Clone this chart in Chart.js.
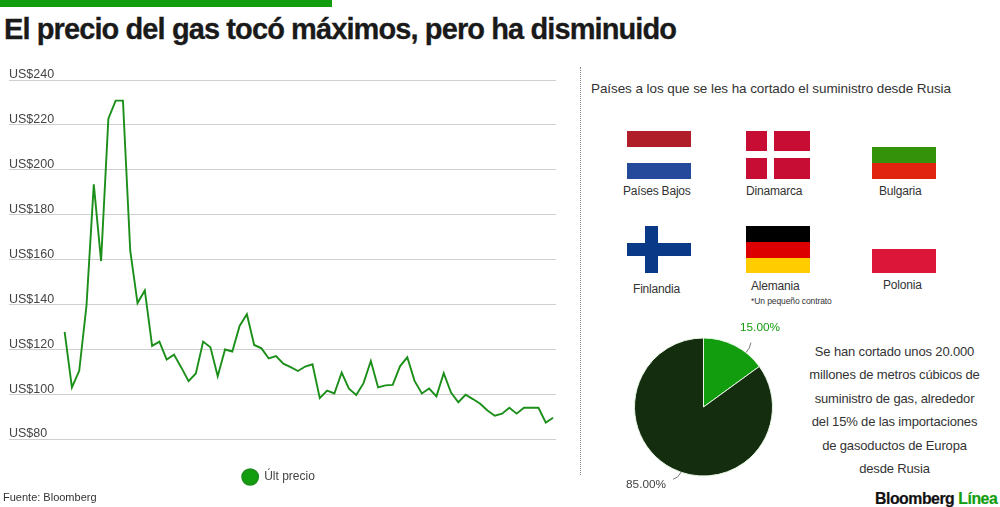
<!DOCTYPE html>
<html lang="es">
<head>
<meta charset="utf-8">
<title>El precio del gas</title>
<script src="https://cdn.jsdelivr.net/npm/chart.js@4"></script>
<style>
  html, body { margin: 0; padding: 0; background: #fff; }
  #page { position: relative; width: 1000px; height: 507px; overflow: hidden; font-family: "Liberation Sans", sans-serif; color: #333; }
  #page div { position: absolute; }
  .txt { white-space: nowrap; font-size: 12px; letter-spacing: -0.2px; line-height: 14px; }
  #topbar { left: 0; top: 0; width: 332px; height: 7px; background: #129d0e; }
  #title { left: 4px; top: 12px; font-size: 29px; line-height: 34px; font-weight: bold; color: #1a1a1a; letter-spacing: -0.9px; white-space: nowrap; -webkit-text-stroke: 0.3px #1a1a1a; }
  #divider { left: 580px; top: 67px; height: 408px; border-left: 1.5px dotted #888; }
  #body { left: 794px; top: 340px; width: 201px; text-align: center; font-size: 13px; line-height: 23.4px; letter-spacing: -0.155px; }
  #brand { left: 875px; top: 490px; font-size: 15.8px; line-height: 18px; font-weight: bold; color: #111; letter-spacing: -0.45px; white-space: nowrap; -webkit-text-stroke: 0.2px; }
  #brand span { color: #129d0e; }
  #lineCanvasBox { left: 0; top: 60px; width: 566px; height: 433px; }
  #pieCanvasBox { left: 613px; top: 317px; width: 181px; height: 180px; }
</style>
</head>
<body>
<div id="page">
  <div id="topbar"></div>
  <div id="title">El precio del gas tocó máximos, pero ha disminuido</div>

  <div id="lineCanvasBox"><canvas id="priceChart"></canvas></div>
  <div id="divider"></div>

  <div class="txt" style="left:591px;top:82px;font-size:13.5px;letter-spacing:-0.08px;">Países a los que se les ha cortado el suministro desde Rusia</div>

  <!-- Paises Bajos -->
  <div style="left:627px;top:131px;width:64px;height:16px;background:#b01e2a"></div>
  <div style="left:627px;top:163px;width:64px;height:16px;background:#264a9b"></div>
  <div class="txt" style="left:623px;top:184px;">Países Bajos</div>
  <!-- Dinamarca -->
  <div style="left:746px;top:131px;width:64px;height:48px;background:#c70d33"></div>
  <div style="left:767px;top:131px;width:7px;height:48px;background:#fff"></div>
  <div style="left:746px;top:151px;width:64px;height:7px;background:#fff"></div>
  <div class="txt" style="left:746px;top:184px;">Dinamarca</div>
  <!-- Bulgaria -->
  <div style="left:872px;top:147px;width:64px;height:16px;background:#33920a"></div>
  <div style="left:872px;top:163px;width:64px;height:16px;background:#e0240f"></div>
  <div class="txt" style="left:879px;top:184px;">Bulgaria</div>
  <!-- Finlandia -->
  <div style="left:627px;top:243px;width:64px;height:13px;background:#0a3a87"></div>
  <div style="left:645px;top:226px;width:13px;height:47px;background:#0a3a87"></div>
  <div class="txt" style="left:633px;top:282px;">Finlandia</div>
  <!-- Alemania -->
  <div style="left:746px;top:226px;width:64px;height:16px;background:#000"></div>
  <div style="left:746px;top:242px;width:64px;height:16px;background:#dc0000"></div>
  <div style="left:746px;top:258px;width:64px;height:15px;background:#ffcc00"></div>
  <div class="txt" style="left:751px;top:279px;">Alemania</div>
  <div class="txt" style="left:751px;top:295px;font-size:8.5px;letter-spacing:-0.1px;line-height:12px;">*Un pequeño contrato</div>
  <!-- Polonia -->
  <div style="left:872px;top:249px;width:64px;height:24px;background:#dc1639"></div>
  <div class="txt" style="left:883px;top:278px;">Polonia</div>

  <div id="pieCanvasBox"><canvas id="shareChart"></canvas></div>
  <div id="body">Se han cortado unos 20.000<br>millones de metros cúbicos de<br>suministro de gas, alrededor<br>del 15% de las importaciones<br>de gasoductos de Europa<br>desde Rusia</div>

  <div class="txt" style="left:3px;top:490px;font-size:11px;letter-spacing:0;">Fuente: Bloomberg</div>
  <div id="brand">Bloomberg <span>Línea</span></div>
</div>

<script>
"use strict";

// Values
const priceValues = [
    127.7, 103, 110.4, 139.5, 193.5, 159.3, 222.8, 230.8, 230.8, 163.9,
    140.6, 146.2, 121.5, 123.4, 115.4, 117.6, 111.9, 105.8, 109.2, 123.4,
    120.9, 108, 119.9, 119, 130.4, 135.6, 121.9, 120.4, 115.9, 117,
    113.6, 112, 110.3, 112.3, 113.3, 98.2, 101.6, 100.3, 109.6, 102.4,
    99.6, 104.9, 114.8, 103, 103.9, 104.1, 112.4, 116.4, 105.9, 100.3,
    102.5, 99, 109.3, 100.7, 96.4, 99.7, 97.8, 95.7, 92.7, 90.4,
    91.3, 93.9, 91.3, 93.9, 93.9, 93.9, 87.3, 89.5
];
const yTicks = [80, 100, 120, 140, 160, 180, 200, 220, 240];
const yTickLabels = ['US$80', 'US$100', 'US$120', 'US$140', 'US$160', 'US$180', 'US$200', 'US$220', 'US$240'];
const seriesName = 'Últ precio';

const shareLabels = ['15.00%', '85.00%'];
const shareValues = [15, 85];
const shareColors = ['#129d0e', '#132d0e'];

// Nudges the legend a little left of the plot centre, as in the original
var legendShiftPlugin = {
    id: 'legendShift',
    afterLayout: function (chart) {
        chart.legend.right -= 8;
    }
};

// Line chart: y labels sit on top of the grid lines, x axis is hidden
new Chart(document.getElementById('priceChart'), {
    type: 'line',
    data: {
        datasets: [{
            label: seriesName,
            data: priceValues.map(function (v, i) { return { x: i, y: v }; }),
            borderColor: '#1b8f19',
            backgroundColor: '#129d0e',
            borderWidth: 1.9,
            pointRadius: 0,
            tension: 0
        }]
    },
    options: {
        responsive: true,
        maintainAspectRatio: false,
        animation: false,
        layout: { padding: { left: 9, right: 10, top: 20, bottom: 0 } },
        scales: {
            x: {
                type: 'linear',
                min: -7.63, // leaves the empty stretch left of the first point
                max: 67.4,
                display: false
            },
            y: {
                min: 80,
                max: 240,
                afterBuildTicks: function (axis) {
                    axis.ticks = yTicks.map(function (v) { return { value: v }; });
                },
                border: { display: false },
                grid: { color: '#cfcfcf', lineWidth: 1, drawTicks: false },
                ticks: {
                    mirror: true,
                    padding: 0,
                    labelOffset: -5,
                    color: '#444',
                    font: { family: 'Liberation Sans', size: 12.5 },
                    callback: function (value, index) { return yTickLabels[index]; }
                }
            }
        },
        plugins: {
            tooltip: { enabled: false },
            legend: {
                position: 'bottom',
                labels: {
                    usePointStyle: true,
                    pointStyle: 'circle',
                    boxHeight: 11,
                    pointStyleWidth: 16,
                    padding: 32, // keeps the plot bottom well above the legend
                    color: '#444',
                    font: { family: 'Liberation Sans', size: 12 }
                }
            }
        }
    },
    plugins: [legendShiftPlugin]
});

// Draws the percent labels and short leader lines round the pie
var pieLabelsPlugin = {
    id: 'pieLabels',
    afterDraw: function (chart) {
        var ctx = chart.ctx;
        var arcs = chart.getDatasetMeta(0).data;
        var leaders = [
            { angle: 38, bendX: 4, bendY: -4, endX: 5, endY: -10, textX: -6, textY: -25, color: '#129d0e' },
            { angle: 199, bendX: -3, bendY: 6, endX: -8, endY: 7, textX: -55, textY: 13, color: '#444' }
        ];
        ctx.save();
        ctx.font = '11.8px "Liberation Sans"';
        ctx.textBaseline = 'middle';
        arcs.forEach(function (arc, i) {
            var l = leaders[i];
            var rad = l.angle * Math.PI / 180;
            var sx = arc.x + arc.outerRadius * Math.sin(rad);
            var sy = arc.y - arc.outerRadius * Math.cos(rad);
            ctx.strokeStyle = '#777';
            ctx.lineWidth = 1;
            ctx.beginPath();
            ctx.moveTo(sx, sy);
            ctx.quadraticCurveTo(sx + l.bendX, sy + l.bendY, sx + l.endX, sy + l.endY);
            ctx.stroke();
            ctx.fillStyle = l.color;
            ctx.fillText(shareLabels[i], sx + l.textX, sy + l.textY);
        });
        ctx.restore();
    }
};

new Chart(document.getElementById('shareChart'), {
    type: 'pie',
    data: {
        labels: shareLabels,
        datasets: [{
            data: shareValues,
            backgroundColor: shareColors,
            borderColor: '#e8f5e4',
            borderWidth: 1,
            radius: 69
        }]
    },
    options: {
        responsive: true,
        maintainAspectRatio: false,
        animation: false,
        plugins: { legend: { display: false }, tooltip: { enabled: false } }
    },
    plugins: [pieLabelsPlugin]
});
</script>
</body>
</html>
